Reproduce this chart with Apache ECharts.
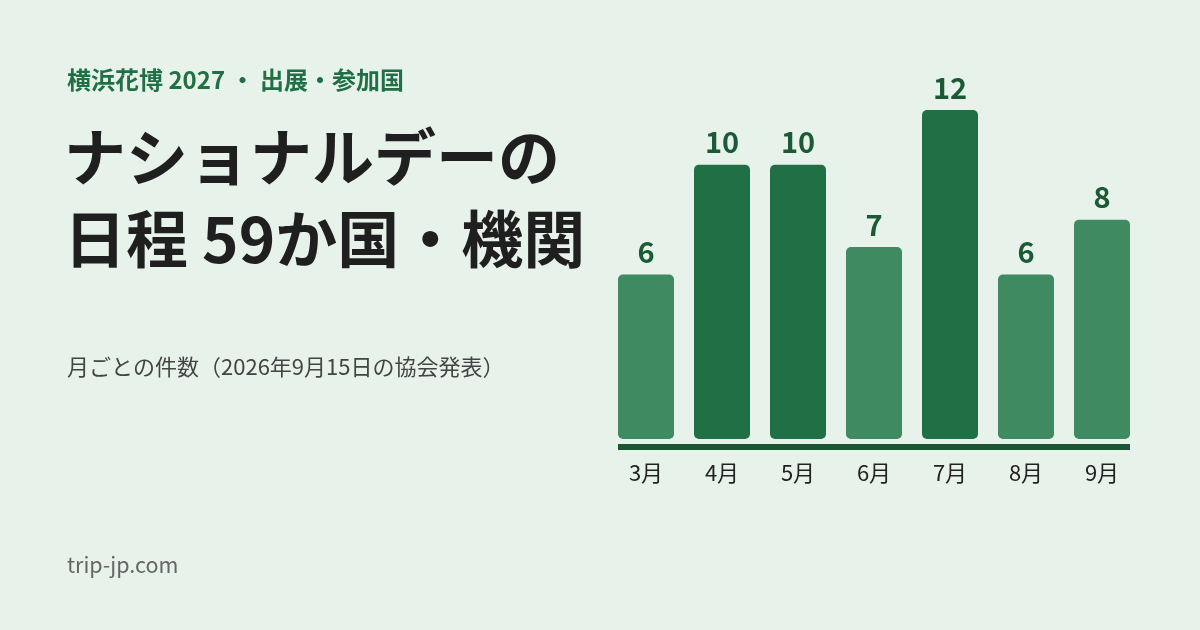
<!DOCTYPE html>
<html>
<head>
<meta charset="utf-8">
<title>ナショナルデーの日程</title>
<script src="https://cdn.jsdelivr.net/npm/echarts@6/dist/echarts.min.js"></script>
<style>
  html, body { margin: 0; padding: 0; background: #e7f2ea; }
  #chart { width: 1200px; height: 630px; }
</style>
</head>
<body>
<div id="chart"></div>
<script>
// 月ごとの件数
const months = ['3月', '4月', '5月', '6月', '7月', '8月', '9月']
const counts = [6, 10, 10, 7, 12, 6, 8]

const FONT = '"Noto Sans CJK JP", "Noto Sans", sans-serif'
const DARK = '#217045'
const LIGHT = '#3f8a60'

var myChart = echarts.init(document.getElementById('chart'))

const option = {
    backgroundColor: '#e7f2ea',
    textStyle: { fontFamily: FONT },
    animation: false,
    grid: { left: 608, right: 60, top: 110, bottom: 191 },
    xAxis: {
        type: 'category',
        data: months,
        axisLine: { show: false },
        axisTick: { show: false },
        axisLabel: { color: '#222', fontSize: 22, margin: 23, fontFamily: FONT }
    },
    yAxis: {
        type: 'value',
        min: 0,
        max: 12,
        show: false
    },
    series: [
        {
            type: 'bar',
            barWidth: 56,
            data: counts.map(v => ({
                value: v,
                itemStyle: { color: v >= 10 ? DARK : LIGHT, borderRadius: 5 }
            })),
            label: {
                show: true,
                position: 'top',
                distance: 8,
                color: '#1c5a36',
                fontSize: 29,
                fontWeight: 'bold',
                fontFamily: FONT
            }
        }
    ],
    graphic: [
        // 軸の太線
        { type: 'rect', left: 618, top: 444, shape: { width: 512, height: 6 }, style: { fill: '#1b5533' } },
        {
            type: 'text', left: 67, top: 68,
            style: { text: '横浜花博 2027 ・ 出展・参加国', fill: '#217045', font: 'bold 24px ' + FONT }
        },
        {
            type: 'text', left: 64, top: 116,
            style: { text: 'ナショナルデーの\n日程 59か国・機関', fill: '#1f1f1f', font: 'bold 62px ' + FONT, lineHeight: 82 }
        },
        {
            type: 'text', left: 67, top: 356,
            style: { text: '月ごとの件数（2026年9月15日の協会発表）', fill: '#444', font: '22px ' + FONT }
        },
        {
            type: 'text', left: 67, top: 554,
            style: { text: 'trip-jp.com', fill: '#666', font: '21.5px ' + FONT }
        }
    ]
}

myChart.setOption(option)
</script>
</body>
</html>
